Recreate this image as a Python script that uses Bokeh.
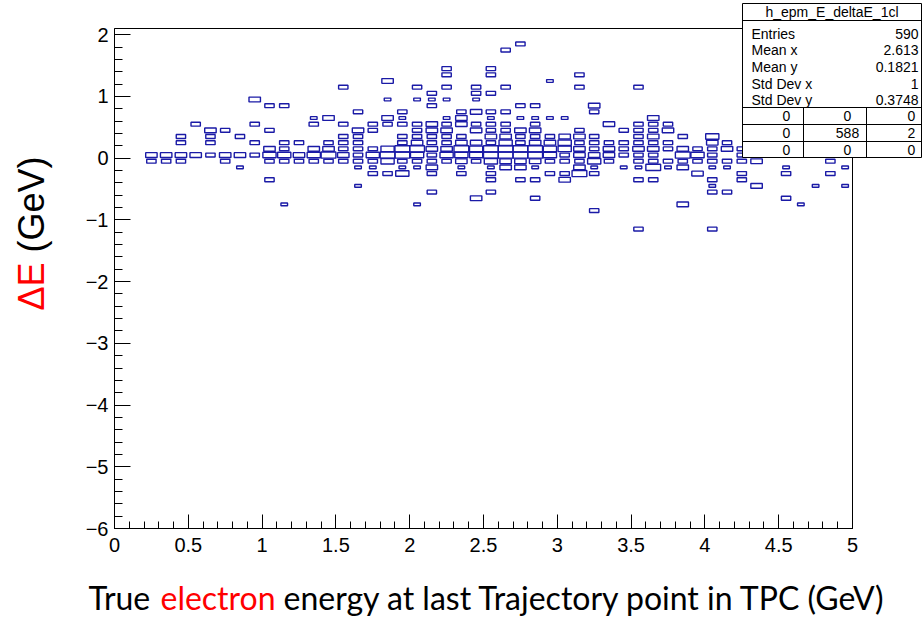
import math
from bokeh.plotting import figure
from bokeh.models import (ColumnDataSource, FixedTicker, Range1d, CustomJSTickFormatter)
from bokeh.core.properties import value
from bokeh.embed import file_html
from bokeh.resources import INLINE

# ---------------- data (2D histogram cells, bin width 0.1 x 0.1) ----------------
cell_x = (
    [0.25] * 2 + [0.35] * 2 + [0.45] * 4 + [0.55] * 2 + [0.65] * 4 + [0.75] * 3 +
    [0.85] * 3 + [0.95] * 4 + [1.05] * 6 + [1.15] * 6 + [1.25] * 3 + [1.35] * 5 +
    [1.45] * 5 + [1.55] * 7 + [1.65] * 9 + [1.75] * 7 + [1.85] * 8 + [1.95] * 10 +
    [2.05] * 11 + [2.15] * 13 + [2.25] * 12 + [2.35] * 10 + [2.45] * 11 +
    [2.55] * 16 + [2.65] * 11 + [2.75] * 11 + [2.85] * 12 + [2.95] * 8 +
    [3.05] * 8 + [3.15] * 10 + [3.25] * 10 + [3.35] * 5 + [3.45] * 5 +
    [3.55] * 11 + [3.65] * 10 + [3.75] * 6 + [3.85] * 6 + [3.95] * 4 +
    [4.05] * 10 + [4.15] * 5 + [4.25] * 5 + [4.35] * 3 + [4.45] * 1 +
    [4.55] * 3 + [4.65] * 1 + [4.75] * 1 + [4.85] * 2 + [4.95] * 2
)
cell_y = [
    0.05, -0.05,
    0.05, -0.05,
    0.35, 0.25, 0.05, -0.05,
    0.55, 0.05,
    0.45, 0.35, 0.25, 0.05,
    0.45, 0.05, -0.05,
    0.35, 0.05, -0.15,
    0.95, 0.55, 0.25, 0.05,
    0.85, 0.45, 0.15, 0.05, -0.05, -0.35,
    0.85, 0.25, 0.15, 0.05, -0.05, -0.75,
    0.25, 0.05, -0.05,
    0.65, 0.55, 0.15, 0.05, -0.05,
    0.65, 0.25, 0.15, 0.05, -0.05,
    1.15, 0.55, 0.35, 0.25, 0.15, 0.05, -0.05,
    0.75, 0.45, 0.35, 0.25, 0.15, 0.05, -0.05, -0.15, -0.45,
    0.55, 0.45, 0.15, 0.05, -0.05, -0.15, -0.25,
    1.25, 0.95, 0.65, 0.55, 0.15, 0.05, -0.05, -0.25,
    0.75, 0.65, 0.55, 0.35, 0.25, 0.15, 0.05, -0.05, -0.15, -0.25,
    1.15, 0.95, 0.55, 0.45, 0.35, 0.25, 0.15, 0.05, -0.05, -0.15, -0.75,
    1.05, 0.95, 0.85, 0.55, 0.45, 0.35, 0.25, 0.15, 0.05, -0.05, -0.15, -0.25, -0.55,
    1.45, 1.35, 1.15, 0.95, 0.65, 0.55, 0.45, 0.35, 0.25, 0.15, 0.05, -0.05,
    0.75, 0.65, 0.55, 0.35, 0.25, 0.15, 0.05, -0.05, -0.15, -0.25,
    1.15, 1.05, 0.95, 0.75, 0.55, 0.45, 0.25, 0.15, 0.05, -0.05, -0.65,
    1.45, 1.35, 1.05, 0.75, 0.65, 0.55, 0.45, 0.35, 0.25, 0.15, 0.05, -0.05, -0.15, -0.25, -0.35, -0.55,
    1.75, 1.15, 0.75, 0.55, 0.45, 0.35, 0.25, 0.15, 0.05, -0.05, -0.15,
    1.85, 0.85, 0.65, 0.45, 0.35, 0.25, 0.15, 0.05, -0.05, -0.15, -0.35,
    0.85, 0.65, 0.55, 0.45, 0.35, 0.25, 0.15, 0.05, -0.05, -0.15, -0.35, -0.65,
    1.25, 0.65, 0.35, 0.25, 0.15, 0.05, -0.05, -0.25,
    0.65, 0.35, 0.25, 0.15, 0.05, -0.05, -0.25, -0.35,
    1.35, 1.15, 0.45, 0.35, 0.25, 0.15, 0.05, -0.05, -0.15, -0.25,
    0.85, 0.75, 0.35, 0.25, 0.15, 0.05, -0.05, -0.15, -0.25, -0.85,
    0.55, 0.25, 0.15, 0.05, -0.05,
    0.45, 0.25, 0.15, 0.05, -0.15,
    1.15, 0.55, 0.45, 0.35, 0.25, 0.15, 0.05, -0.05, -0.15, -0.35, -1.15,
    0.65, 0.55, 0.45, 0.35, 0.25, 0.15, 0.05, -0.05, -0.15, -0.35,
    0.55, 0.45, 0.25, 0.15, -0.05, -0.15,
    0.35, 0.15, 0.05, -0.05, -0.15, -0.75,
    0.15, 0.05, -0.05, -0.25,
    0.35, 0.25, 0.15, 0.05, -0.05, -0.15, -0.35, -0.45, -0.55, -1.15,
    0.25, 0.15, -0.05, -0.15, -0.55,
    0.15, 0.05, -0.05, -0.25, -0.35,
    0.05, -0.05, -0.45,
    0.05,
    -0.15, -0.25, -0.65,
    -0.75,
    -0.45,
    -0.05, -0.25,
    -0.15, -0.45,
]
cell_n = [
    3, 2,
    3, 2,
    2, 2, 3, 2,
    2, 3,
    3, 2, 2, 2,
    2, 3, 2,
    2, 3, 1,
    3, 2, 2, 2,
    2, 2, 3, 4, 2, 2,
    2, 2, 2, 4, 2, 1,
    2, 3, 2,
    1, 2, 3, 4, 2,
    3, 2, 3, 5, 2,
    2, 2, 2, 2, 2, 3, 2,
    2, 3, 2, 2, 2, 2, 2, 1, 1,
    2, 2, 2, 4, 2, 1, 2,
    3, 1, 3, 2, 4, 5, 4, 2,
    2, 1, 2, 2, 2, 5, 5, 2, 1, 4,
    2, 1, 2, 2, 2, 3, 5, 4, 2, 1, 1,
    2, 1, 2, 3, 3, 2, 2, 3, 2, 2, 3, 2, 2,
    2, 2, 2, 1, 1, 2, 3, 2, 2, 3, 4, 2,
    2, 3, 3, 2, 3, 5, 4, 3, 1, 2,
    2, 2, 1, 3, 2, 3, 3, 4, 4, 2, 3,
    2, 2, 2, 2, 1, 2, 2, 3, 2, 5, 5, 4, 1, 2, 2, 2,
    2, 2, 2, 2, 2, 3, 4, 5, 5, 3, 3,
    2, 2, 1, 3, 2, 2, 5, 5, 3, 3, 2,
    2, 1, 2, 3, 2, 3, 5, 5, 3, 1, 2, 2,
    1, 1, 2, 3, 4, 4, 2, 2,
    1, 3, 4, 4, 2, 2, 2, 3,
    2, 2, 2, 3, 2, 3, 3, 2, 3, 5,
    3, 2, 2, 2, 2, 3, 4, 1, 2, 2,
    3, 2, 3, 3, 2,
    2, 2, 2, 2, 1,
    2, 2, 2, 2, 2, 3, 2, 2, 1, 2, 2,
    3, 2, 2, 3, 2, 3, 2, 2, 5, 2,
    2, 3, 2, 2, 2, 1,
    2, 3, 5, 2, 3, 3,
    2, 4, 2, 3,
    4, 3, 2, 2, 2, 1, 2, 1, 2, 2,
    2, 3, 2, 1, 2,
    2, 2, 2, 2, 2,
    2, 3, 3,
    2,
    1, 2, 2,
    1,
    1,
    2, 2,
    1, 1,
]

x_ticks = [0, 0.5, 1, 1.5, 2, 2.5, 3, 3.5, 4, 4.5, 5]
y_ticks = [-6, -5, -4, -3, -2, -1, 0, 1, 2]

hist_name = "h_epm_E_deltaE_1cl"
stat_names = ["Entries", "Mean x", "Mean y", "Std Dev x", "Std Dev y"]
stat_values = ["590", "2.613", "0.1821", "1", "0.3748"]
table_values = [["0", "0", "0"], ["0", "588", "2"], ["0", "0", "0"]]

# ---------------- layout constants ----------------
W, H = 924, 617
FX0, FX1, FY0, FY1 = 114, 852, 28, 528
XMIN, XMAX, YMIN, YMAX = 0.0, 5.0, -6.0, 2.1
BINW = 0.1
NMAX = 5.0


def dx(px):
    return XMIN + (px - FX0) / (FX1 - FX0) * (XMAX - XMIN)


def dy(py):
    return YMAX - (py - FY0) / (FY1 - FY0) * (YMAX - YMIN)


sizes = [BINW * math.sqrt(n / NMAX) for n in cell_n]
src = ColumnDataSource(dict(x=cell_x, y=cell_y, w=sizes, h=sizes))

p = figure(width=W, height=H, x_range=Range1d(XMIN, XMAX), y_range=Range1d(YMIN, YMAX),
           output_backend="svg", toolbar_location=None,
           min_border_left=FX0, min_border_right=W - FX1,
           min_border_top=FY0, min_border_bottom=H - FY1)
p.grid.visible = False
p.outline_line_color = "black"
p.outline_line_width = 1
p.background_fill_color = "white"
p.border_fill_color = "white"

p.rect(x="x", y="y", width="w", height="h", source=src,
       fill_alpha=0, line_color="#1a1aa6", line_width=1.4)

fmt = CustomJSTickFormatter(code="return String(Math.round(tick*10)/10).replace('-', '\\u2212');")

xa = p.xaxis[0]
xa.ticker = FixedTicker(ticks=x_ticks,
                        minor_ticks=[round(i * 0.1, 1) for i in range(0, 51)])
xa.formatter = fmt
xa.major_tick_in = 14
xa.major_tick_out = 0
xa.minor_tick_in = 7
xa.minor_tick_out = 0
xa.major_label_standoff = 9
xa.major_label_text_font = "Liberation Sans"
xa.major_label_text_font_size = "20px"
xa.major_label_text_color = "black"
xa.axis_line_color = "black"
xa.major_tick_line_color = "black"
xa.minor_tick_line_color = "black"

ya = p.yaxis[0]
ya.ticker = FixedTicker(ticks=y_ticks,
                        minor_ticks=[round(-6 + i * 0.2, 1) for i in range(0, 41)])
ya.formatter = fmt
ya.major_tick_in = 16
ya.major_tick_out = 0
ya.minor_tick_in = 8
ya.minor_tick_out = 0
ya.major_label_standoff = 6
ya.major_label_text_font = "Liberation Sans"
ya.major_label_text_font_size = "20px"
ya.major_label_text_color = "black"
ya.axis_line_color = "black"
ya.major_tick_line_color = "black"
ya.minor_tick_line_color = "black"

# ---------------- axis titles (overlay level: not clipped to the frame) ----------------
xt_text = ["True", "electron", "energy at last Trajectory point in TPC (GeV)"]
xt_px = [88, 160, 283]
xt_col = ["black", "#ff0000", "black"]
p.text(x=[dx(v) for v in xt_px], y=[dy(597)] * 3, text=xt_text, text_color=xt_col,
       text_font=value("Lato"), text_font_size=value("32px"),
       text_align="left", text_baseline="middle", level="overlay")

yt_text = ["\u0394E", "(GeV)"]
yt_py = [310, 252]
yt_col = ["#ff0000", "black"]
p.text(x=[dx(31)] * 2, y=[dy(v) for v in yt_py], text=yt_text, text_color=yt_col,
       angle=math.pi / 2, text_font=value("Liberation Sans"), text_font_size=value("36px"),
       text_align="left", text_baseline="middle", level="overlay")

# ---------------- statistics box ----------------
SB_L, SB_R, SB_T, SB_B = 742, 921, 3, 157
TITLE_B = 20
ROW_LINES = [107, 124, 141]
COL_LINES = [803, 866]

p.quad(left=[dx(SB_L)], right=[dx(SB_R)], top=[dy(SB_T)], bottom=[dy(SB_B)],
       fill_color="white", line_color="black", line_width=1, level="overlay")
hx0 = [dx(SB_L)] * 4
hx1 = [dx(SB_R)] * 4
hy = [dy(v) for v in [TITLE_B] + ROW_LINES]
p.segment(x0=hx0, y0=hy, x1=hx1, y1=hy, line_color="black", line_width=1, level="overlay")
p.segment(x0=[dx(v) for v in COL_LINES], y0=[dy(ROW_LINES[0])] * 2,
          x1=[dx(v) for v in COL_LINES], y1=[dy(SB_B)] * 2,
          line_color="black", line_width=1, level="overlay")

SFONT = value("Liberation Sans")
SSIZE = value("14px")
p.text(x=[dx((SB_L + SB_R) / 2)], y=[dy(11.5)], text=[hist_name], text_font=SFONT,
       text_font_size=SSIZE, text_align="center", text_baseline="middle", level="overlay")
row_py = [33, 49.5, 66, 83, 99]
p.text(x=[dx(751)] * 5, y=[dy(v) for v in row_py], text=stat_names, text_font=SFONT,
       text_font_size=SSIZE, text_align="left", text_baseline="middle", level="overlay")
p.text(x=[dx(918)] * 5, y=[dy(v) for v in row_py], text=stat_values, text_font=SFONT,
       text_font_size=SSIZE, text_align="right", text_baseline="middle", level="overlay")
cell_px = [786, 847, 911]
tab_rows = ROW_LINES + [SB_B]
tx, ty, tt = [], [], []
for r in range(3):
    pyc = (tab_rows[r] + tab_rows[r + 1]) / 2
    for c in range(3):
        tx.append(dx(cell_px[c]))
        ty.append(dy(pyc))
        tt.append(table_values[r][c])
p.text(x=tx, y=ty, text=tt, text_font=SFONT, text_font_size=SSIZE,
       text_align="center", text_baseline="middle", level="overlay")

open("out.html", "w").write(file_html(p, INLINE))
